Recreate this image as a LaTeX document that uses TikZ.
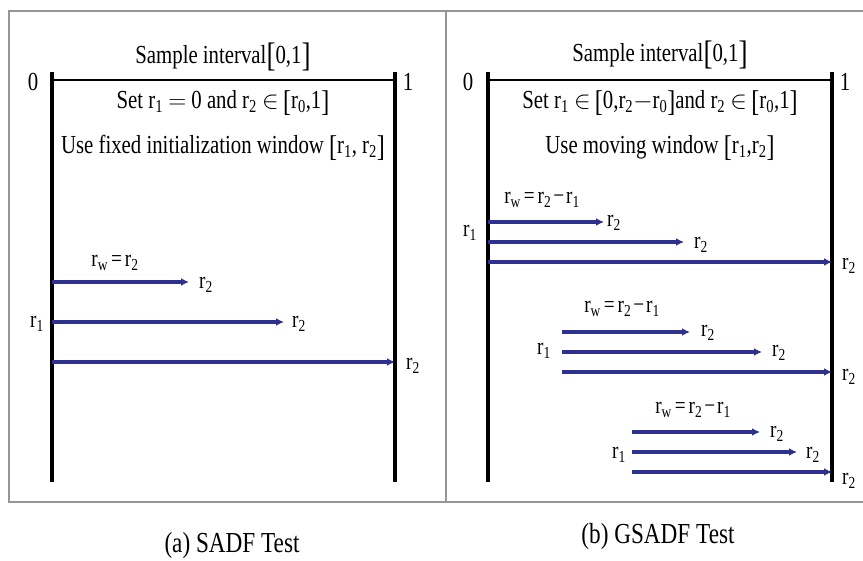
\documentclass[tikz,border=0pt]{standalone}
\usepackage{fontspec}
\setmainfont{Liberation Serif}[FakeStretch=0.8]
\usetikzlibrary{arrows.meta}
\definecolor{arrblue}{RGB}{46,49,146}
\definecolor{framegray}{RGB}{150,150,150}
\newcommand{\rs}[1]{r\textsubscript{#1}}
\newcommand{\rwlab}{\rs w\hspace{3pt}=\hspace{3pt}\rs2\hspace{2pt}−\hspace{2pt}\rs1}
\newcommand{\bkl}[1]{\raisebox{-3pt}{\fontsize{#1}{#1}\selectfont[}}
\newcommand{\bkr}[1]{\raisebox{-3pt}{\fontsize{#1}{#1}\selectfont]}}
\tikzset{
  txt/.style={inner sep=0pt, font=\fontsize{26}{30}\selectfont},
  captxt/.style={inner sep=0pt, font=\fontsize{29}{33}\selectfont},
  lbl/.style={inner sep=0pt, font=\fontsize{24}{28}\selectfont},
  axis/.style={line width=3.5pt, black},
  topline/.style={line width=1.5pt, black},
  win/.style={line width=3.2pt, arrblue, -{Latex[length=8pt,width=8pt]}},
  framest/.style={line width=1.8pt, framegray},
}
\begin{document}
\begin{tikzpicture}[x=1pt,y=-1pt]
\useasboundingbox (0,0) rectangle (863,561);
% frame
\draw[framest] (863,11) -- (9,11) -- (9,502) -- (863,502);
\draw[framegray, line width=1.2pt] (446,11) -- (446,502);

% ---------- left panel ----------
\coordinate (LT) at (52,72);
\coordinate (LB) at (52,482);
\coordinate (RT) at (395,72);
\coordinate (RB) at (395,482);
\coordinate (LH) at (52,80);
\coordinate (RH) at (395,80);
\draw[axis] (LT) -- (LB);
\draw[axis] (RT) -- (RB);
\draw[topline] (LH) -- (RH);
\node[txt] (l0) at (33,82) {0};
\node[txt] (l1) at (408,82) {1};
\node[txt] (ltitle) at (223,57) {Sample interval\bkl{34}0,1\bkr{34}};
\node[txt] (lset) at (223,103) {Set \rs1 $=$ 0 and \rs2 $\in$\,\bkl{30}\rs0,1\bkr{30}};
\node[txt] (luse) at (223,148) {Use fixed initialization window \bkl{30}\rs1, \rs2\bkr{30}};

\coordinate (la1s) at (52,282); \coordinate (la1e) at (189,282);
\coordinate (la2s) at (52,322); \coordinate (la2e) at (284,322);
\coordinate (la3s) at (52,362); \coordinate (la3e) at (395,362);
\draw[win] (la1s) -- (la1e);
\draw[win] (la2s) -- (la2e);
\draw[win] (la3s) -- (la3e);
\node[lbl] (lrw) at (115,263) {\rs w\hspace{3pt}=\hspace{3pt}\rs2};
\node[lbl] (lr21) at (206,285) {\rs2};
\node[lbl] (lr22) at (299,324) {\rs2};
\node[lbl] (lr23) at (413,366) {\rs2};
\node[lbl] (lr1) at (37,324) {\rs1};

% ---------- right panel ----------
\coordinate (LT2) at (488,72);
\coordinate (LB2) at (488,482);
\coordinate (RT2) at (832,72);
\coordinate (RB2) at (832,482);
\coordinate (LH2) at (488,80);
\coordinate (RH2) at (832,80);
\draw[axis] (LT2) -- (LB2);
\draw[axis] (RT2) -- (RB2);
\draw[topline] (LH2) -- (RH2);
\node[txt] (r0) at (468,82) {0};
\node[txt] (r1) at (845,82) {1};
\node[txt] (rtitle) at (660,55) {Sample interval\bkl{34}0,1\bkr{34}};
\node[txt] (rset) at (660,103) {Set \rs1 $\in$\,\bkl{30}0,\rs2$-$\rs0\bkr{30}and \rs2 $\in$\,\bkl{30}\rs0,1\bkr{30}};
\node[txt] (ruse) at (660,148) {Use moving window \bkl{30}\rs1,\rs2\bkr{30}};

% group 1
\coordinate (g1a1s) at (488,222); \coordinate (g1a1e) at (604,222);
\coordinate (g1a2s) at (488,242); \coordinate (g1a2e) at (684,242);
\coordinate (g1a3s) at (488,262); \coordinate (g1a3e) at (832,262);
\draw[win] (g1a1s) -- (g1a1e);
\draw[win] (g1a2s) -- (g1a2e);
\draw[win] (g1a3s) -- (g1a3e);
\node[lbl] (g1rw) at (542,200) {\rwlab};
\node[lbl] (g1r21) at (614,223) {\rs2};
\node[lbl] (g1r22) at (701,245) {\rs2};
\node[lbl] (g1r23) at (849,266) {\rs2};
\node[lbl] (g1r1) at (470,233) {\rs1};

% group 2
\coordinate (g2a1s) at (562,332); \coordinate (g2a1e) at (690,332);
\coordinate (g2a2s) at (562,352); \coordinate (g2a2e) at (762,352);
\coordinate (g2a3s) at (562,372); \coordinate (g2a3e) at (832,372);
\draw[win] (g2a1s) -- (g2a1e);
\draw[win] (g2a2s) -- (g2a2e);
\draw[win] (g2a3s) -- (g2a3e);
\node[lbl] (g2rw) at (622,309) {\rwlab};
\node[lbl] (g2r21) at (708,333) {\rs2};
\node[lbl] (g2r22) at (779,353) {\rs2};
\node[lbl] (g2r23) at (849,377) {\rs2};
\node[lbl] (g2r1) at (544,351) {\rs1};

% group 3
\coordinate (g3a1s) at (632,432); \coordinate (g3a1e) at (760,432);
\coordinate (g3a2s) at (632,452); \coordinate (g3a2e) at (797,452);
\coordinate (g3a3s) at (632,472); \coordinate (g3a3e) at (832,472);
\draw[win] (g3a1s) -- (g3a1e);
\draw[win] (g3a2s) -- (g3a2e);
\draw[win] (g3a3s) -- (g3a3e);
\node[lbl] (g3rw) at (693,410) {\rwlab};
\node[lbl] (g3r21) at (777,434) {\rs2};
\node[lbl] (g3r22) at (813,455) {\rs2};
\node[lbl] (g3r23) at (849,481) {\rs2};
\node[lbl] (g3r1) at (619,455) {\rs1};

% captions
\node[captxt] (capa) at (232,546) {(a) SADF Test};
\node[captxt] (capb) at (658,537) {(b) GSADF Test};
\end{tikzpicture}
\end{document}
